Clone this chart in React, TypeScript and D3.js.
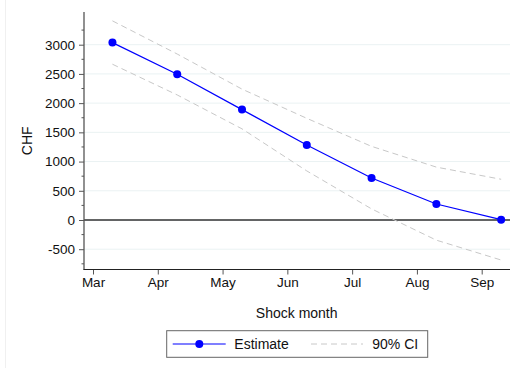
import * as d3 from 'd3';
import { useEffect, useRef } from 'react';

// months as numbers (3 = Mar), shock dated about the 10th of each month
const months = [3.3, 4.3, 5.3, 6.3, 7.3, 8.3, 9.3];
const estimate = [3036, 2495, 1889, 1284, 719, 274, 5];
const ciUpper = [3408, 2840, 2240, 1740, 1260, 905, 697];
const ciLower = [2666, 2140, 1560, 840, 190, -345, -685];

const monthTicks = [3, 4, 5, 6, 7, 8, 9];
const monthLabels = ['Mar', 'Apr', 'May', 'Jun', 'Jul', 'Aug', 'Sep'];
const yTicks = [-500, 0, 500, 1000, 1500, 2000, 2500, 3000];
const yMinorTicks = d3.range(-750, 3251, 250).filter(v => v % 500 !== 0);

const App = () => {
    const svgRef = useRef<SVGSVGElement>(null);

    useEffect(() => {
        const width = 510;
        const height = 372;
        const left = 84, right = 512, top = 12, bottom = 269.5;
        const font = '"Liberation Sans", Arial, sans-serif';

        const svg = d3.select(svgRef.current)
            .attr('width', width)
            .attr('height', height);
        svg.selectAll('*').remove();

        const x = d3.scaleLinear().domain([3, 9]).range([93, 481.7]);
        const y = d3.scaleLinear().domain([0, 3000]).range([220, 44.7]);

        // faint outer graph border
        svg.append('line')
            .attr('x1', 5.5).attr('x2', 5.5).attr('y1', 0).attr('y2', 368)
            .attr('stroke', '#f0f0f0').attr('stroke-width', 1);

        // grid
        svg.append('g')
            .selectAll('line')
            .data(yTicks)
            .enter()
            .append('line')
            .attr('x1', left).attr('x2', right)
            .attr('y1', d => y(d)).attr('y2', d => y(d))
            .attr('stroke', '#eaf2f3').attr('stroke-width', 1);

        // zero line
        svg.append('line')
            .attr('x1', left).attr('x2', right)
            .attr('y1', y(0)).attr('y2', y(0))
            .attr('stroke', '#333').attr('stroke-width', 1.3);

        // CI lines
        const line = d3.line<number>()
            .x((_, i) => x(months[i]));
        [ciUpper, ciLower].forEach(ci => {
            svg.append('path')
                .attr('d', line.y(d => y(d))(ci))
                .attr('fill', 'none')
                .attr('stroke', '#c8c8c8')
                .attr('stroke-width', 1)
                .attr('stroke-dasharray', '6,4');
        });

        // estimate
        svg.append('path')
            .attr('d', line.y(d => y(d))(estimate))
            .attr('fill', 'none')
            .attr('stroke', '#0000ff')
            .attr('stroke-width', 1.2);
        svg.append('g')
            .selectAll('circle')
            .data(estimate)
            .enter()
            .append('circle')
            .attr('cx', (_, i) => x(months[i]))
            .attr('cy', d => y(d))
            .attr('r', 4)
            .attr('fill', '#0000ff');

        // y axis
        const yAxis = d3.axisLeft(y).tickValues(yTicks).tickSize(5).tickPadding(4).tickFormat(d => String(d));
        const yg = svg.append('g').attr('transform', `translate(${left},0)`).call(yAxis);
        yg.select('.domain').remove();
        yg.selectAll('line').attr('stroke', '#555');
        yg.selectAll('text').attr('font-family', font).attr('font-size', 13.5).attr('fill', '#111');
        svg.append('g')
            .selectAll('line')
            .data(yMinorTicks)
            .enter()
            .append('line')
            .attr('x1', left - 2.5).attr('x2', left)
            .attr('y1', d => y(d)).attr('y2', d => y(d))
            .attr('stroke', '#555');
        svg.append('line')
            .attr('x1', left).attr('x2', left).attr('y1', top).attr('y2', bottom)
            .attr('stroke', '#555').attr('stroke-width', 1.3);

        // x axis
        const xAxis = d3.axisBottom(x).tickValues(monthTicks).tickSize(5).tickPadding(3)
            .tickFormat((_, i) => monthLabels[i]);
        const xg = svg.append('g').attr('transform', `translate(0,${bottom})`).call(xAxis);
        xg.select('.domain').remove();
        xg.selectAll('line').attr('stroke', '#555');
        xg.selectAll('text').attr('font-family', font).attr('font-size', 13.5).attr('fill', '#111');
        svg.append('line')
            .attr('x1', left - 0.6).attr('x2', right).attr('y1', bottom).attr('y2', bottom)
            .attr('stroke', '#222').attr('stroke-width', 1.2);

        // axis titles
        svg.append('text')
            .attr('x', 296.7).attr('y', 318)
            .attr('text-anchor', 'middle')
            .attr('font-family', font).attr('font-size', 14).attr('fill', '#111')
            .text('Shock month');
        svg.append('text')
            .attr('transform', `translate(31.5,${(top + bottom) / 2}) rotate(-90)`)
            .attr('text-anchor', 'middle')
            .attr('font-family', font).attr('font-size', 14).attr('fill', '#111')
            .text('CHF');

        // legend
        const lg = svg.append('g');
        lg.append('rect')
            .attr('x', 166.7).attr('y', 330.7).attr('width', 261).attr('height', 26.6)
            .attr('fill', 'white').attr('stroke', '#666').attr('stroke-width', 1);
        lg.append('line')
            .attr('x1', 172.7).attr('x2', 225.7).attr('y1', 344).attr('y2', 344)
            .attr('stroke', '#0000ff').attr('stroke-width', 1.2);
        lg.append('circle').attr('cx', 199.3).attr('cy', 344).attr('r', 4).attr('fill', '#0000ff');
        lg.append('text')
            .attr('x', 234.3).attr('y', 349)
            .attr('font-family', font).attr('font-size', 14).attr('fill', '#111')
            .text('Estimate');
        lg.append('line')
            .attr('x1', 311).attr('x2', 363).attr('y1', 344).attr('y2', 344)
            .attr('stroke', '#c8c8c8').attr('stroke-width', 1).attr('stroke-dasharray', '6,4');
        lg.append('text')
            .attr('x', 372.3).attr('y', 349)
            .attr('font-family', font).attr('font-size', 14).attr('fill', '#111')
            .text('90% CI');
    }, []);

    return (
        <div>
            <svg ref={svgRef} style={{ position: 'absolute', left: 0, top: 0 }} />
        </div>
    );
};

export default App;
